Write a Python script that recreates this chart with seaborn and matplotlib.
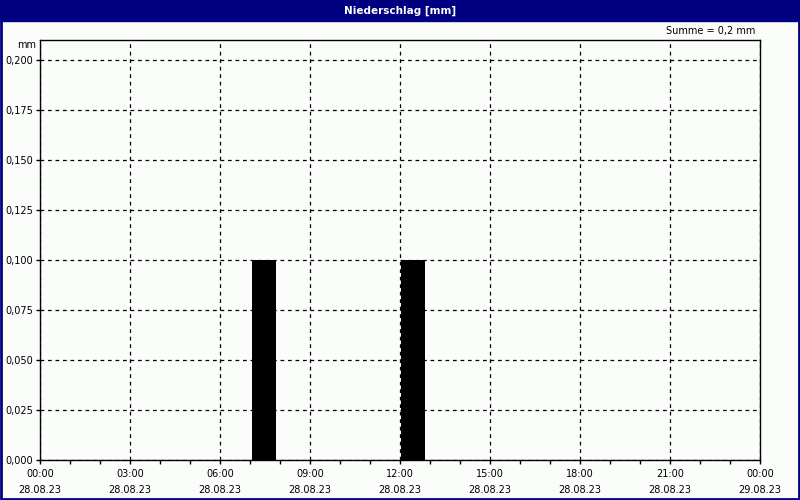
import numpy as np
import pandas as pd
import matplotlib
matplotlib.use("Agg")
import matplotlib.pyplot as plt
from matplotlib.patches import Rectangle
from matplotlib.ticker import FuncFormatter, MultipleLocator
import seaborn as sns

# Stündliche Niederschlagssummen am 28.08.23 (Stunde 0..23)
stunden = list(range(24))
niederschlag = [0.0] * 24
niederschlag[7] = 0.1
niederschlag[12] = 0.1

tick_stunden = [0, 3, 6, 9, 12, 15, 18, 21, 24]
tick_zeiten = ["00:00", "03:00", "06:00", "09:00", "12:00", "15:00", "18:00", "21:00", "00:00"]
tick_daten = ["28.08.23"] * 8 + ["29.08.23"]

sns.set_style("white")
plt.rcParams["font.family"] = ["DejaVu Sans"]

bg = "#fbfdfb"
navy = "#000080"

data = pd.DataFrame({"stunde": np.array(stunden) + 0.5, "mm": niederschlag})

fig = plt.figure(figsize=(8, 5), dpi=100, facecolor=bg)
ax = fig.add_axes([0.05, 0.08, 0.90, 0.84], facecolor=bg)

sns.histplot(data=data, x="stunde", weights="mm", binwidth=1, binrange=(-0.05, 23.95), shrink=0.8,
             color="black", edgecolor="black", linewidth=0, alpha=1, ax=ax)

ax.set_xlim(0, 24)
ax.set_ylim(0, 0.21)
ax.set_xticks(tick_stunden)
ax.set_xticklabels([f"{z}\n{d}" for z, d in zip(tick_zeiten, tick_daten)], fontsize=7, linespacing=1.7)
ax.xaxis.set_minor_locator(MultipleLocator(1))
ax.yaxis.set_major_locator(MultipleLocator(0.025))
ax.yaxis.set_major_formatter(FuncFormatter(lambda v, p: f"{v:.3f}".replace(".", ",")))
ax.tick_params(axis="y", labelsize=7, length=3, width=1, pad=2, direction="out", left=True,
               colors="black")
ax.tick_params(axis="x", which="both", length=3, width=1, pad=3.5, direction="out", bottom=True,
               colors="black")
ax.set_xlabel("")
ax.set_ylabel("")
ax.grid(True, color="black", linestyle=(0, (3, 3)), linewidth=0.9)
ax.set_axisbelow(True)
for s in ax.spines.values():
    s.set_color("black")
    s.set_linewidth(1)

# Titelleiste und Rahmen
fig.patches.append(Rectangle((0, 0.958), 1, 0.042, transform=fig.transFigure, color=navy, zorder=0))
fig.patches.append(Rectangle((0.001, 0.002), 0.998, 0.996, transform=fig.transFigure, fill=False,
                             edgecolor=navy, linewidth=2, zorder=5))
fig.text(0.5, 0.979, "Niederschlag [mm]", color="white", fontsize=7.5, fontweight="bold",
         ha="center", va="center")
fig.text(0.944, 0.938, "Summe = 0,2 mm", fontsize=7, ha="right", va="center", color="black")
fig.text(0.045, 0.911, "mm", fontsize=7, ha="right", va="center", color="black")

fig.savefig("out.png", dpi=100, facecolor=bg)
